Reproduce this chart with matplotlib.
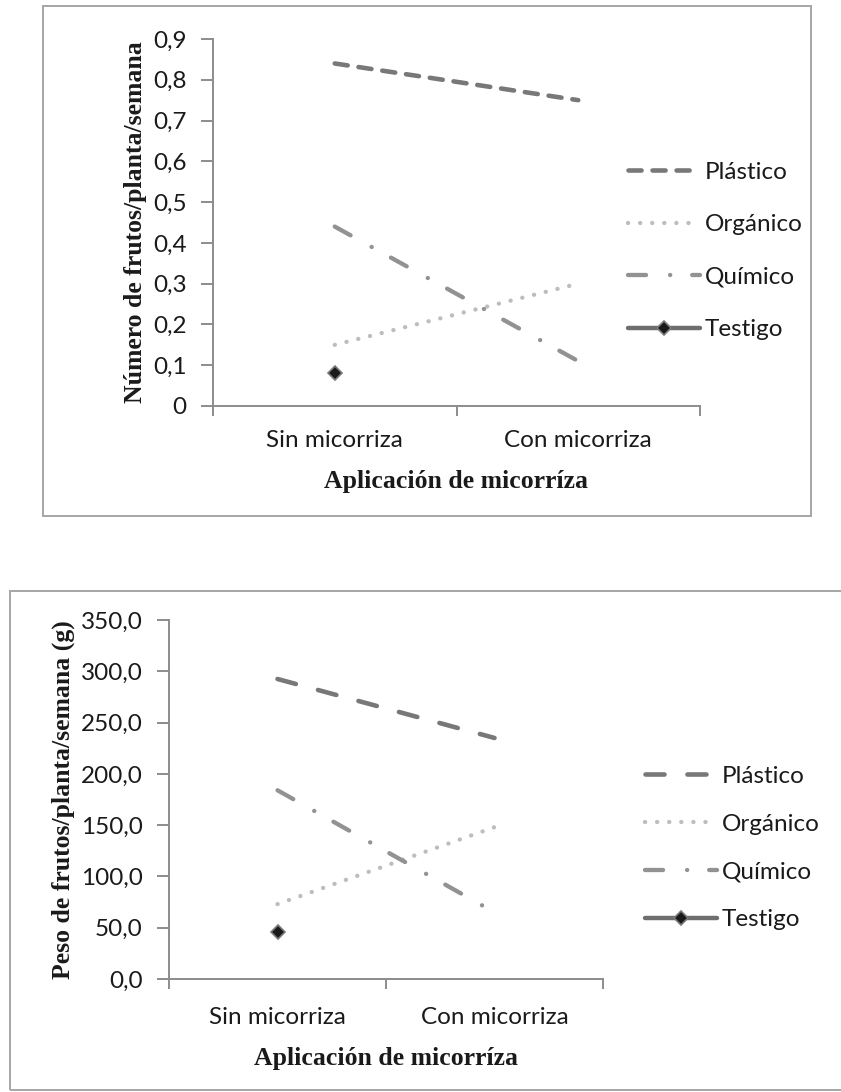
import numpy as np
import matplotlib
matplotlib.use('Agg')
import matplotlib.pyplot as plt
import matplotlib.ticker as mticker
from matplotlib.patches import Rectangle

plt.rcParams['lines.scale_dashes'] = False

# ── 数据 ──────────────────────────────────
categorias = ['Sin micorriza', 'Con micorriza']
series = ['Plástico', 'Orgánico', 'Químico', 'Testigo']

num_plastico = [0.84, 0.75]
num_organico = [0.15, 0.30]
num_quimico = [0.44, 0.11]
num_testigo = [0.08, np.nan]

peso_plastico = [292.5, 235.0]
peso_organico = [73.0, 148.0]
peso_quimico = [184.0, 65.0]
peso_testigo = [46.0, np.nan]

W, H = 841, 1092
TICK_FONT = 'Lato'
LABEL_FONT = 'Liberation Serif'
FS = 17.5


def frac(l, t, r, b):
    return [l / W, 1 - b / H, (r - l) / W, (b - t) / H]


fig = plt.figure(figsize=(W / 100, H / 100), dpi=100)

# marcos
for l, t, r, b in [(43, 6, 811, 516), (10, 591, 860, 1090)]:
    fig.add_artist(Rectangle((l / W, 1 - b / H), (r - l) / W, (b - t) / H,
                             transform=fig.transFigure, fill=False,
                             edgecolor='#A6A6A6', linewidth=1.4))


def draw(ax, vals, ymax, ystep, fmt, ylabel, plast_dash, leg_xy,
         labelspacing, xpad, xlabelpad):
    x = [0.5, 1.5]
    p, o, q, t = vals
    ax.plot(x, p, color='#787878', lw=3.3, dashes=plast_dash,
            dash_capstyle='round', label='Plástico')
    ax.plot(x, o, color='#BDBDBD', lw=3.1, dashes=(0.1, 8.6),
            dash_capstyle='round', label='Orgánico')
    ax.plot(x, q, color='#929292', lw=3.1, dashes=(13, 17.3, 0.1, 15.8),
            dash_capstyle='round', label='Químico')
    ax.plot(x, t, color='#6E6E6E', lw=3.2, solid_capstyle='round',
            marker='D', markersize=7, markerfacecolor='#1A1A1A',
            markeredgecolor='#7A7A7A', markeredgewidth=1.2, label='Testigo')

    ax.set_xlim(0, 2)
    ax.set_ylim(0, ymax)
    ax.set_yticks(np.arange(0, ymax + ystep / 2, ystep))
    ax.yaxis.set_major_formatter(mticker.FuncFormatter(fmt))
    ax.set_xticks([0, 1, 2])
    ax.set_xticklabels([])
    ax.set_xticks(x, minor=True)
    ax.set_xticklabels(categorias, minor=True)
    ax.tick_params(axis='x', which='major', length=7, width=1.4, color='#8C8C8C')
    ax.tick_params(axis='x', which='minor', length=0, pad=xpad,
                   labelsize=FS, labelcolor='#1A1A1A')
    ax.tick_params(axis='y', length=9, width=1.4, color='#8C8C8C', pad=10,
                   labelsize=FS, labelcolor='#1A1A1A')
    for lab in ax.get_xticklabels(minor=True) + ax.get_yticklabels():
        lab.set_family(TICK_FONT)

    for s in ['top', 'right']:
        ax.spines[s].set_visible(False)
    for s in ['left', 'bottom']:
        ax.spines[s].set_color('#8C8C8C')
        ax.spines[s].set_linewidth(1.4)

    ax.set_xlabel('Aplicación de micorríza', family=LABEL_FONT,
                  fontweight='bold', fontsize=18.5, color='#1A1A1A',
                  labelpad=xlabelpad)
    ax.set_ylabel(ylabel, family=LABEL_FONT, fontweight='bold',
                  fontsize=18.5, color='#1A1A1A', labelpad=4)

    leg = ax.legend(loc='center left', bbox_to_anchor=leg_xy,
                    bbox_transform=fig.transFigure, frameon=False,
                    borderpad=0, borderaxespad=0, handlelength=72 / (FS * 100 / 72),
                    handletextpad=0.2, labelspacing=labelspacing,
                    prop={'family': TICK_FONT, 'size': FS})
    for txt in leg.get_texts():
        txt.set_color('#1A1A1A')
    return ax


ax1 = fig.add_axes(frac(213, 39, 700, 406))
draw(ax1, (num_plastico, num_organico, num_quimico, num_testigo),
     0.9, 0.1,
     lambda v, pos: '0' if abs(v) < 1e-9 else f'{v:.1f}'.replace('.', ','),
     'Número de frutos/planta/semana', (9.4, 7.9),
     (628 / W, 1 - 251 / H), 1.3, 17, 14)

ax2 = fig.add_axes(frac(169, 620, 603, 979))
draw(ax2, (peso_plastico, peso_organico, peso_quimico, peso_testigo),
     350, 50,
     lambda v, pos: f'{v:.1f}'.replace('.', ','),
     'Peso de frutos/planta/semana (g)', (13.7, 16.5),
     (645 / W, 1 - 848 / H), 1.1, 20, 14)

fig.savefig('out.png', dpi=100)
